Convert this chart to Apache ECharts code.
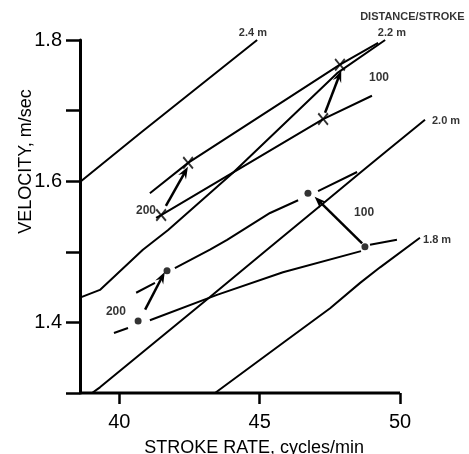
<!DOCTYPE html>
<html>
<head>
<meta charset="utf-8">
<script src="https://cdn.jsdelivr.net/npm/echarts@6/dist/echarts.min.js"></script>
<style>
html,body{margin:0;padding:0;background:#fff;}
#chart{width:469px;height:454px;}
</style>
</head>
<body>
<div id="chart"></div>
<script>
// ---- data ----
const xTicks = [40, 45, 50];
const yTicks = [1.3, 1.4, 1.5, 1.6, 1.7, 1.8];
const yLabels = [1.4, 1.6, 1.8];
const xAxisSpan = [38.6, 50];   // drawn extent of the stroke-rate axis line

// iso distance-per-stroke lines
const iso24 = [[38.60,1.599],[40.74,1.668],[44.91,1.800]];
const iso22 = [[38.60,1.435],[39.31,1.446],[40.84,1.503],[41.74,1.531],[44.05,1.612],[47.76,1.753],[49.47,1.800]];
const iso20 = [[39.03,1.300],[39.31,1.308],[43.23,1.436],[45.26,1.503],[47.15,1.565],[48.58,1.612],[49.47,1.641],[50.89,1.687]];
const iso18 = [[43.41,1.300],[45.97,1.375],[47.51,1.420],[48.58,1.456],[49.29,1.478],[50.71,1.520]];

// lines through the X points
const crossLineUpper = [[41.09,1.583],[42.45,1.626],[47.86,1.765],[49.22,1.796]];
const crossLineLower = [[41.31,1.548],[41.49,1.552],[47.26,1.688],[49.00,1.721]];

// broken lines through the dot points ('-' = gap)
const dotLineLower = [[39.81,1.385],[40.31,1.392],['-','-'],[41.09,1.403],[43.48,1.439],[45.83,1.471],[48.61,1.501],['-','-'],[48.93,1.510],[49.89,1.517]];
const dotLineUpper = [[40.60,1.442],[41.27,1.456],['-','-'],[41.98,1.477],[43.23,1.503],[43.84,1.517],[45.37,1.555],[46.37,1.573],['-','-'],[47.08,1.586],[48.47,1.613]];

// points
const crosses = [[41.49,1.552],[42.45,1.626],[47.26,1.688],[47.86,1.765]];
const dots = [[40.67,1.402],[41.70,1.473],[46.72,1.583],[48.75,1.507]];

// arrows (from, to)
const arrows = [
  [[41.66,1.565],[42.34,1.613]],
  [[47.33,1.697],[47.83,1.749]],
  [[40.92,1.418],[41.52,1.464]],
  [[48.65,1.512],[47.11,1.572]]
];

// annotation texts
const isoLabelText = ['2.4 m','2.2 m','2.0 m','1.8 m'];
const isoLabelPos = [[44.76,1.810],[49.71,1.810],[51.64,1.685],[51.32,1.517]];
const legendTitle = 'DISTANCE/STROKE';
const legendTitlePos = [48.58,1.833];
const distText = ['200','100','200','100'];
const distPos = [[40.95,1.558],[49.25,1.746],[39.88,1.415],[48.72,1.555]];

const xName = 'STROKE RATE, cycles/min';
const yName = 'VELOCITY, m/sec';

// ---- chart ----
const FONT = 'Liberation Sans, Arial, sans-serif';
const chart = echarts.init(document.getElementById('chart'), null, {renderer:'canvas'});

const lineSeries = (data, w) => ({
  type:'line', data:data, symbol:'none', clip:false, connectNulls:false,
  lineStyle:{color:'#000', width:w || 2}, silent:true, animation:false, z:2
});

const xPath = 'path://M0,1.2 L1.2,0 L5,4 L8.8,0 L10,1.2 L6.2,5 L10,8.8 L8.8,10 L5,6 L1.2,10 L0,8.8 L3.8,5 Z';
const arrowPath = 'path://M5,0 L10,11 L5,7 L0,11 Z';

const annData = [];
isoLabelText.forEach((t,i)=>annData.push({name:t, value:isoLabelPos[i], label:{fontSize:11}}));
annData.push({name:legendTitle, value:legendTitlePos, label:{align:'left', fontSize:11}});
distText.forEach((t,i)=>annData.push({name:t, value:distPos[i], label:{fontSize:12}}));

const option = {
  animation:false,
  backgroundColor:'#fff',
  grid:{left:80, top:40, width:348.1, height:353, containLabel:false, outerBoundsMode:'none'},
  xAxis:{
    type:'value', min:38.6, max:51,
    name:xName, nameLocation:'middle', nameGap:46, nameMoveOverlap:false,
    nameTextStyle:{fontFamily:FONT, fontSize:18, color:'#000'},
    axisLine:{show:false},
    axisTick:{show:true, customValues:xTicks, length:11, lineStyle:{color:'#000', width:2.5}},
    axisLabel:{customValues:xTicks, margin:19, fontFamily:FONT, fontSize:20, color:'#000'},
    splitLine:{show:false}
  },
  yAxis:{
    type:'value', min:1.3, max:1.8,
    name:yName, nameLocation:'middle', nameGap:45, nameRotate:90, nameMoveOverlap:false,
    nameTextStyle:{fontFamily:FONT, fontSize:18, color:'#000', padding:[0,0,0,110]},
    axisLine:{show:true, lineStyle:{color:'#000', width:3}},
    axisTick:{show:true, customValues:yTicks, length:14, lineStyle:{color:'#000', width:2.5}},
    axisLabel:{customValues:yLabels, margin:18, fontFamily:FONT, fontSize:20, color:'#000',
      formatter:(v)=>Number(v).toFixed(1)},
    splitLine:{show:false}
  },
  series:[
    lineSeries(xAxisSpan.map(x => [x, 1.3]), 3),
    lineSeries(iso24), lineSeries(iso22), lineSeries(iso20), lineSeries(iso18),
    lineSeries(crossLineUpper), lineSeries(crossLineLower),
    lineSeries(dotLineLower), lineSeries(dotLineUpper),
    {
      type:'scatter', data:crosses, symbol:xPath, symbolSize:[11,13], clip:false,
      itemStyle:{color:'#000'}, silent:true, z:5
    },
    {
      type:'scatter', data:dots, symbol:'circle', symbolSize:7, clip:false,
      itemStyle:{color:'#000'}, silent:true, z:5,
      markLine:{
        silent:true, animation:false,
        symbol:['none', arrowPath], symbolSize:[9,12],
        lineStyle:{color:'#000', width:2.5, type:'solid'},
        label:{show:false},
        data: arrows.map(a => [{coord:a[0]},{coord:a[1]}])
      }
    },
    {
      type:'scatter', data:annData, symbolSize:0, clip:false, silent:true, z:6,
      label:{show:true, position:'inside', formatter:'{b}', color:'#000',
        fontFamily:FONT, fontWeight:'bold'}
    }
  ]
};
chart.setOption(option);
</script>
</body>
</html>
